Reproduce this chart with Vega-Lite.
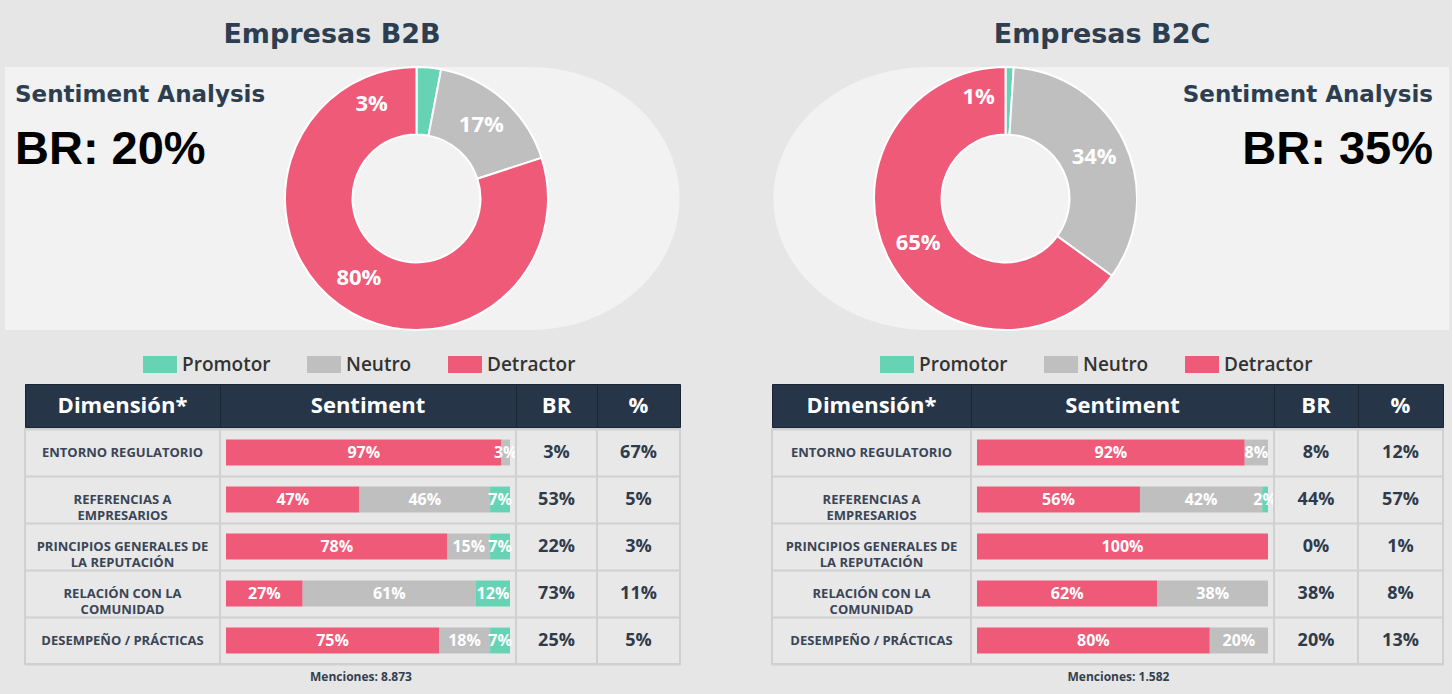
{
  "$schema": "https://vega.github.io/schema/vega-lite/v6.json",
  "background": "#e6e6e6",
  "padding": {"left": 5, "top": 21, "right": 3, "bottom": 17},
  "config": {"view": {"stroke": null}, "font": "Open Sans"},
  "datasets": {
    "donut": [
      {"panel": "B2B", "sentiment": "Promotor", "value": 0.03},
      {"panel": "B2B", "sentiment": "Neutro", "value": 0.17},
      {"panel": "B2B", "sentiment": "Detractor", "value": 0.80},
      {"panel": "B2C", "sentiment": "Promotor", "value": 0.01},
      {"panel": "B2C", "sentiment": "Neutro", "value": 0.34},
      {"panel": "B2C", "sentiment": "Detractor", "value": 0.65}
    ],
    "sent": [
      {"panel": "B2B", "dim": "ENTORNO REGULATORIO", "sentiment": "Detractor", "value": 0.97},
      {"panel": "B2B", "dim": "ENTORNO REGULATORIO", "sentiment": "Neutro", "value": 0.03},
      {"panel": "B2B", "dim": "REFERENCIAS A\nEMPRESARIOS", "sentiment": "Detractor", "value": 0.47},
      {"panel": "B2B", "dim": "REFERENCIAS A\nEMPRESARIOS", "sentiment": "Neutro", "value": 0.46},
      {"panel": "B2B", "dim": "REFERENCIAS A\nEMPRESARIOS", "sentiment": "Promotor", "value": 0.07},
      {"panel": "B2B", "dim": "PRINCIPIOS GENERALES DE\nLA REPUTACIÓN", "sentiment": "Detractor", "value": 0.78},
      {"panel": "B2B", "dim": "PRINCIPIOS GENERALES DE\nLA REPUTACIÓN", "sentiment": "Neutro", "value": 0.15},
      {"panel": "B2B", "dim": "PRINCIPIOS GENERALES DE\nLA REPUTACIÓN", "sentiment": "Promotor", "value": 0.07},
      {"panel": "B2B", "dim": "RELACIÓN CON LA\nCOMUNIDAD", "sentiment": "Detractor", "value": 0.27},
      {"panel": "B2B", "dim": "RELACIÓN CON LA\nCOMUNIDAD", "sentiment": "Neutro", "value": 0.61},
      {"panel": "B2B", "dim": "RELACIÓN CON LA\nCOMUNIDAD", "sentiment": "Promotor", "value": 0.12},
      {"panel": "B2B", "dim": "DESEMPEÑO / PRÁCTICAS", "sentiment": "Detractor", "value": 0.75},
      {"panel": "B2B", "dim": "DESEMPEÑO / PRÁCTICAS", "sentiment": "Neutro", "value": 0.18},
      {"panel": "B2B", "dim": "DESEMPEÑO / PRÁCTICAS", "sentiment": "Promotor", "value": 0.07},
      {"panel": "B2C", "dim": "ENTORNO REGULATORIO", "sentiment": "Detractor", "value": 0.92},
      {"panel": "B2C", "dim": "ENTORNO REGULATORIO", "sentiment": "Neutro", "value": 0.08},
      {"panel": "B2C", "dim": "REFERENCIAS A\nEMPRESARIOS", "sentiment": "Detractor", "value": 0.56},
      {"panel": "B2C", "dim": "REFERENCIAS A\nEMPRESARIOS", "sentiment": "Neutro", "value": 0.42},
      {"panel": "B2C", "dim": "REFERENCIAS A\nEMPRESARIOS", "sentiment": "Promotor", "value": 0.02},
      {"panel": "B2C", "dim": "PRINCIPIOS GENERALES DE\nLA REPUTACIÓN", "sentiment": "Detractor", "value": 1.0},
      {"panel": "B2C", "dim": "RELACIÓN CON LA\nCOMUNIDAD", "sentiment": "Detractor", "value": 0.62},
      {"panel": "B2C", "dim": "RELACIÓN CON LA\nCOMUNIDAD", "sentiment": "Neutro", "value": 0.38},
      {"panel": "B2C", "dim": "DESEMPEÑO / PRÁCTICAS", "sentiment": "Detractor", "value": 0.80},
      {"panel": "B2C", "dim": "DESEMPEÑO / PRÁCTICAS", "sentiment": "Neutro", "value": 0.20}
    ],
    "dims": [
      {"panel": "B2B", "dim": "ENTORNO REGULATORIO", "br": 0.03, "pct": 0.67},
      {"panel": "B2B", "dim": "REFERENCIAS A\nEMPRESARIOS", "br": 0.53, "pct": 0.05},
      {"panel": "B2B", "dim": "PRINCIPIOS GENERALES DE\nLA REPUTACIÓN", "br": 0.22, "pct": 0.03},
      {"panel": "B2B", "dim": "RELACIÓN CON LA\nCOMUNIDAD", "br": 0.73, "pct": 0.11},
      {"panel": "B2B", "dim": "DESEMPEÑO / PRÁCTICAS", "br": 0.25, "pct": 0.05},
      {"panel": "B2C", "dim": "ENTORNO REGULATORIO", "br": 0.08, "pct": 0.12},
      {"panel": "B2C", "dim": "REFERENCIAS A\nEMPRESARIOS", "br": 0.44, "pct": 0.57},
      {"panel": "B2C", "dim": "PRINCIPIOS GENERALES DE\nLA REPUTACIÓN", "br": 0.0, "pct": 0.01},
      {"panel": "B2C", "dim": "RELACIÓN CON LA\nCOMUNIDAD", "br": 0.38, "pct": 0.08},
      {"panel": "B2C", "dim": "DESEMPEÑO / PRÁCTICAS", "br": 0.20, "pct": 0.13}
    ]
  },
  "spacing": 90,
  "resolve": {"legend": {"color": "independent"}},
  "hconcat": [
    {
      "title": {"text": "Empresas B2B", "anchor": "middle", "offset": 14, "dx": -11, "font": "DejaVu Sans", "fontSize": 27, "fontWeight": "bold", "color": "#2c3e50"},
      "spacing": 13,
      "resolve": {"legend": {"color": "independent"}},
      "vconcat": [
        {
          "spacing": 0,
          "bounds": "flush",
          "hconcat": [
            {
              "width": 280, "height": 263,
              "view": {"fill": "#f2f2f2", "stroke": null},
              "title": {"text": "Sentiment Analysis", "subtitle": "BR: 20%", "anchor": "start", "offset": -106, "dx": 10, "font": "DejaVu Sans", "fontSize": 23, "fontWeight": "bold", "color": "#2c3e50", "subtitleFont": "Liberation Sans", "subtitleFontSize": 47, "subtitleFontWeight": "bold", "subtitleColor": "#000000", "subtitlePadding": 20.5},
              "data": {"values": [{}]},
              "mark": {"type": "text"},
              "encoding": {"text": {"value": ""}}
            },
            {
              "width": 263, "height": 263,
              "layer": [
                {
                  "data": {"values": [{}]},
                  "mark": {"type": "point", "shape": "M-1,-1L0.867,-1A1.133,1,0,0,1,2,0A1.133,1,0,0,1,0.867,1L-1,1Z", "size": 69169, "filled": true, "color": "#f2f2f2", "opacity": 1, "strokeWidth": 0},
                  "encoding": {}
                },
                {
                  "data": {"name": "donut"},
                  "transform": [{"filter": "datum.panel == 'B2B'"}],
                  "mark": {"type": "arc", "radius": 131.5, "innerRadius": 64, "stroke": "#ffffff", "strokeWidth": 2},
                  "encoding": {
                    "theta": {"field": "value", "type": "quantitative", "stack": true, "scale": {"domain": [0, 1]}},
                    "color": {"field": "sentiment", "type": "nominal", "scale": {"domain": ["Promotor", "Neutro", "Detractor"], "range": ["#66d4b4", "#bfbfbf", "#ef5a78"]}, "legend": null},
                    "order": {"field": "sentiment", "sort": "descending"}
                  }
                },
                {
                  "data": {"name": "donut"},
                  "transform": [{"filter": "datum.panel == 'B2B'"}],
                  "mark": {"type": "text", "radius": 98, "font": "Open Sans", "fontSize": 22, "fontWeight": "bold", "color": "#ffffff"},
                  "encoding": {
                    "theta": {"field": "value", "type": "quantitative", "stack": true, "scale": {"domain": [0, 1]}},
                    "detail": {"field": "sentiment"},
                    "order": {"field": "sentiment", "sort": "descending"},
                    "text": {"condition": {"test": "datum.sentiment == 'Promotor'", "value": ""}, "field": "value", "type": "quantitative", "format": ".0%"}
                  }
                },
                {
                  "data": {"name": "donut"},
                  "transform": [{"filter": "datum.panel == 'B2B'"}],
                  "mark": {"type": "text", "radius": 98, "dx": -54, "dy": 3, "font": "Open Sans", "fontSize": 22, "fontWeight": "bold", "color": "#ffffff"},
                  "encoding": {
                    "theta": {"field": "value", "type": "quantitative", "stack": true, "scale": {"domain": [0, 1]}},
                    "detail": {"field": "sentiment"},
                    "order": {"field": "sentiment", "sort": "descending"},
                    "text": {"condition": {"test": "datum.sentiment == 'Promotor'", "field": "value", "type": "quantitative", "format": ".0%"}, "value": ""}
                  }
                }
              ]
            }
          ]
        },
        {
          "spacing": 0,
          "vconcat": [
            {
              "spacing": 0,
              "bounds": "flush",
              "hconcat": [
                {"width": 20, "height": 43, "data": {"values": [{}]}, "mark": {"type": "text"}, "encoding": {"text": {"value": ""}}},
                {"width": 195, "height": 43, "view": {"fill": "#273549", "stroke": "#1b2432", "strokeWidth": 1}, "data": {"values": [{"h": "Dimensión*"}]}, "mark": {"type": "text", "font": "Open Sans", "fontSize": 22, "fontWeight": "bold", "color": "#ffffff"}, "encoding": {"text": {"field": "h"}}},
                {"width": 296, "height": 43, "view": {"fill": "#273549", "stroke": "#1b2432", "strokeWidth": 1}, "data": {"values": [{"h": "Sentiment"}]}, "mark": {"type": "text", "font": "Open Sans", "fontSize": 22, "fontWeight": "bold", "color": "#ffffff"}, "encoding": {"text": {"field": "h"}}},
                {"width": 81, "height": 43, "view": {"fill": "#273549", "stroke": "#1b2432", "strokeWidth": 1}, "data": {"values": [{"h": "BR"}]}, "mark": {"type": "text", "font": "Open Sans", "fontSize": 22, "fontWeight": "bold", "color": "#ffffff"}, "encoding": {"text": {"field": "h"}}},
                {"width": 83, "height": 43, "view": {"fill": "#273549", "stroke": "#1b2432", "strokeWidth": 1}, "data": {"values": [{"h": "%"}]}, "mark": {"type": "text", "font": "Open Sans", "fontSize": 22, "fontWeight": "bold", "color": "#ffffff"}, "encoding": {"text": {"field": "h"}}}
              ]
            },
            {
              "spacing": 0,
              "bounds": "flush",
              "hconcat": [
                {"width": 20, "height": 235, "data": {"values": [{}]}, "mark": {"type": "text"}, "encoding": {"text": {"value": ""}}},
                {
                  "width": 195, "height": 235,
                  "view": {"fill": "#e8e8e8", "stroke": "#d0d0d0", "strokeWidth": 2},
                  "data": {"name": "dims"},
                  "transform": [{"filter": "datum.panel == 'B2B'"}],
                  "mark": {"type": "text", "font": "Open Sans", "fontSize": 13, "fontWeight": "bold", "color": "#3a4556", "lineBreak": "\n", "lineHeight": 16},
                  "encoding": {
                    "y": {"field": "dim", "type": "nominal", "scale": {"type": "band", "domain": ["ENTORNO REGULATORIO", "REFERENCIAS A\nEMPRESARIOS", "PRINCIPIOS GENERALES DE\nLA REPUTACIÓN", "RELACIÓN CON LA\nCOMUNIDAD", "DESEMPEÑO / PRÁCTICAS"], "paddingInner": 0, "paddingOuter": 0}, "axis": {"grid": true, "tickBand": "extent", "labels": false, "ticks": false, "domain": false, "title": null, "gridColor": "#d0d0d0", "gridWidth": 2}},
                    "text": {"field": "dim"}
                  }
                },
                {
                  "width": 296, "height": 235,
                  "view": {"fill": "#e8e8e8", "stroke": "#d0d0d0", "strokeWidth": 2},
                  "title": {"text": "Menciones: 8.873", "orient": "bottom", "anchor": "middle", "offset": 8, "dx": -7, "font": "Open Sans", "fontSize": 12, "fontWeight": "bold", "color": "#333f50"},
                  "data": {"name": "sent"},
                  "transform": [{"filter": "datum.panel == 'B2B'"}],
                  "encoding": {
                    "y": {"field": "dim", "type": "nominal", "scale": {"type": "band", "domain": ["ENTORNO REGULATORIO", "REFERENCIAS A\nEMPRESARIOS", "PRINCIPIOS GENERALES DE\nLA REPUTACIÓN", "RELACIÓN CON LA\nCOMUNIDAD", "DESEMPEÑO / PRÁCTICAS"], "paddingInner": 0, "paddingOuter": 0}, "axis": {"grid": true, "tickBand": "extent", "labels": false, "ticks": false, "domain": false, "title": null, "gridColor": "#d0d0d0", "gridWidth": 2}},
                    "x": {"field": "value", "type": "quantitative", "stack": "zero", "scale": {"domain": [0, 1], "nice": false, "padding": 6}, "axis": null},
                    "order": {"field": "sentiment", "sort": "ascending"}
                  },
                  "layer": [
                    {
                      "mark": {"type": "bar", "height": {"band": 0.55}},
                      "encoding": {
                        "color": {"field": "sentiment", "type": "nominal", "scale": {"domain": ["Promotor", "Neutro", "Detractor"], "range": ["#66d4b4", "#bfbfbf", "#ef5a78"]},
                          "legend": {"orient": "none", "legendX": 138, "legendY": -36.5, "direction": "horizontal", "title": null, "symbolType": "M-1,-0.5H1V0.5H-1Z", "symbolSize": 1156, "symbolStrokeWidth": 0, "symbolOpacity": 1, "labelFont": "Open Sans", "labelFontSize": 19, "labelFontWeight": 600, "labelColor": "#333333", "labelOffset": 5, "columnPadding": 36, "padding": 0}}
                      }
                    },
                    {
                      "mark": {"type": "text", "font": "Open Sans", "fontSize": 16, "fontWeight": "bold", "color": "#ffffff"},
                      "encoding": {
                        "x": {"field": "value", "type": "quantitative", "stack": "zero", "bandPosition": 0.5, "scale": {"domain": [0, 1], "nice": false, "padding": 6}, "axis": null},
                        "detail": {"field": "sentiment"},
                        "text": {"field": "value", "type": "quantitative", "format": ".0%"}
                      }
                    }
                  ]
                },
                {
                  "width": 81, "height": 235,
                  "view": {"fill": "#e8e8e8", "stroke": "#d0d0d0", "strokeWidth": 2},
                  "data": {"name": "dims"},
                  "transform": [{"filter": "datum.panel == 'B2B'"}],
                  "mark": {"type": "text", "font": "Open Sans", "fontSize": 18, "fontWeight": "bold", "color": "#2f3b4c"},
                  "encoding": {
                    "y": {"field": "dim", "type": "nominal", "scale": {"type": "band", "domain": ["ENTORNO REGULATORIO", "REFERENCIAS A\nEMPRESARIOS", "PRINCIPIOS GENERALES DE\nLA REPUTACIÓN", "RELACIÓN CON LA\nCOMUNIDAD", "DESEMPEÑO / PRÁCTICAS"], "paddingInner": 0, "paddingOuter": 0}, "axis": {"grid": true, "tickBand": "extent", "labels": false, "ticks": false, "domain": false, "title": null, "gridColor": "#d0d0d0", "gridWidth": 2}},
                    "text": {"field": "br", "type": "quantitative", "format": ".0%"}
                  }
                },
                {
                  "width": 83, "height": 235,
                  "view": {"fill": "#e8e8e8", "stroke": "#d0d0d0", "strokeWidth": 2},
                  "data": {"name": "dims"},
                  "transform": [{"filter": "datum.panel == 'B2B'"}],
                  "mark": {"type": "text", "font": "Open Sans", "fontSize": 18, "fontWeight": "bold", "color": "#2f3b4c"},
                  "encoding": {
                    "y": {"field": "dim", "type": "nominal", "scale": {"type": "band", "domain": ["ENTORNO REGULATORIO", "REFERENCIAS A\nEMPRESARIOS", "PRINCIPIOS GENERALES DE\nLA REPUTACIÓN", "RELACIÓN CON LA\nCOMUNIDAD", "DESEMPEÑO / PRÁCTICAS"], "paddingInner": 0, "paddingOuter": 0}, "axis": {"grid": true, "tickBand": "extent", "labels": false, "ticks": false, "domain": false, "title": null, "gridColor": "#d0d0d0", "gridWidth": 2}},
                    "text": {"field": "pct", "type": "quantitative", "format": ".0%"}
                  }
                }
              ]
            }
          ]
        }
      ]
    },
    {
      "title": {"text": "Empresas B2C", "anchor": "middle", "offset": 14, "dx": -8, "font": "DejaVu Sans", "fontSize": 27, "fontWeight": "bold", "color": "#2c3e50"},
      "spacing": 13,
      "resolve": {"legend": {"color": "independent"}},
      "vconcat": [
        {
          "spacing": 0,
          "bounds": "flush",
          "hconcat": [
            {"width": 102, "height": 263, "data": {"values": [{}]}, "mark": {"type": "text"}, "encoding": {"text": {"value": ""}}},
            {
              "width": 263, "height": 263,
              "layer": [
                {
                  "data": {"values": [{}]},
                  "mark": {"type": "point", "shape": "M1,-1L-0.586,-1A1.179,1,0,0,0,-1.765,0A1.179,1,0,0,0,-0.586,1L1,1Z", "size": 69169, "filled": true, "color": "#f2f2f2", "opacity": 1, "strokeWidth": 0},
                  "encoding": {}
                },
                {
                  "data": {"name": "donut"},
                  "transform": [{"filter": "datum.panel == 'B2C'"}],
                  "mark": {"type": "arc", "radius": 131.5, "innerRadius": 64, "stroke": "#ffffff", "strokeWidth": 2},
                  "encoding": {
                    "theta": {"field": "value", "type": "quantitative", "stack": true, "scale": {"domain": [0, 1]}},
                    "color": {"field": "sentiment", "type": "nominal", "scale": {"domain": ["Promotor", "Neutro", "Detractor"], "range": ["#66d4b4", "#bfbfbf", "#ef5a78"]}, "legend": null},
                    "order": {"field": "sentiment", "sort": "descending"}
                  }
                },
                {
                  "data": {"name": "donut"},
                  "transform": [{"filter": "datum.panel == 'B2C'"}],
                  "mark": {"type": "text", "radius": 98, "font": "Open Sans", "fontSize": 22, "fontWeight": "bold", "color": "#ffffff"},
                  "encoding": {
                    "theta": {"field": "value", "type": "quantitative", "stack": true, "scale": {"domain": [0, 1]}},
                    "detail": {"field": "sentiment"},
                    "order": {"field": "sentiment", "sort": "descending"},
                    "text": {"condition": {"test": "datum.sentiment == 'Promotor'", "value": ""}, "field": "value", "type": "quantitative", "format": ".0%"}
                  }
                },
                {
                  "data": {"name": "donut"},
                  "transform": [{"filter": "datum.panel == 'B2C'"}],
                  "mark": {"type": "text", "radius": 98, "dx": -30, "dy": -4, "font": "Open Sans", "fontSize": 22, "fontWeight": "bold", "color": "#ffffff"},
                  "encoding": {
                    "theta": {"field": "value", "type": "quantitative", "stack": true, "scale": {"domain": [0, 1]}},
                    "detail": {"field": "sentiment"},
                    "order": {"field": "sentiment", "sort": "descending"},
                    "text": {"condition": {"test": "datum.sentiment == 'Promotor'", "field": "value", "type": "quantitative", "format": ".0%"}, "value": ""}
                  }
                }
              ]
            },
            {
              "width": 312, "height": 263,
              "view": {"fill": "#f2f2f2", "stroke": null},
              "title": {"text": "Sentiment Analysis", "subtitle": "BR: 35%", "anchor": "end", "offset": -106, "dx": -16, "font": "DejaVu Sans", "fontSize": 23, "fontWeight": "bold", "color": "#2c3e50", "subtitleFont": "Liberation Sans", "subtitleFontSize": 47, "subtitleFontWeight": "bold", "subtitleColor": "#000000", "subtitlePadding": 20.5},
              "data": {"values": [{}]},
              "mark": {"type": "text"},
              "encoding": {"text": {"value": ""}}
            }
          ]
        },
        {
          "spacing": 0,
          "vconcat": [
            {
              "spacing": 0,
              "bounds": "flush",
              "hconcat": [
                {"width": 199, "height": 43, "view": {"fill": "#273549", "stroke": "#1b2432", "strokeWidth": 1}, "data": {"values": [{"h": "Dimensión*"}]}, "mark": {"type": "text", "font": "Open Sans", "fontSize": 22, "fontWeight": "bold", "color": "#ffffff"}, "encoding": {"text": {"field": "h"}}},
                {"width": 303, "height": 43, "view": {"fill": "#273549", "stroke": "#1b2432", "strokeWidth": 1}, "data": {"values": [{"h": "Sentiment"}]}, "mark": {"type": "text", "font": "Open Sans", "fontSize": 22, "fontWeight": "bold", "color": "#ffffff"}, "encoding": {"text": {"field": "h"}}},
                {"width": 84, "height": 43, "view": {"fill": "#273549", "stroke": "#1b2432", "strokeWidth": 1}, "data": {"values": [{"h": "BR"}]}, "mark": {"type": "text", "font": "Open Sans", "fontSize": 22, "fontWeight": "bold", "color": "#ffffff"}, "encoding": {"text": {"field": "h"}}},
                {"width": 85, "height": 43, "view": {"fill": "#273549", "stroke": "#1b2432", "strokeWidth": 1}, "data": {"values": [{"h": "%"}]}, "mark": {"type": "text", "font": "Open Sans", "fontSize": 22, "fontWeight": "bold", "color": "#ffffff"}, "encoding": {"text": {"field": "h"}}}
              ]
            },
            {
              "spacing": 0,
              "bounds": "flush",
              "hconcat": [
                {
                  "width": 199, "height": 235,
                  "view": {"fill": "#e8e8e8", "stroke": "#d0d0d0", "strokeWidth": 2},
                  "data": {"name": "dims"},
                  "transform": [{"filter": "datum.panel == 'B2C'"}],
                  "mark": {"type": "text", "font": "Open Sans", "fontSize": 13, "fontWeight": "bold", "color": "#3a4556", "lineBreak": "\n", "lineHeight": 16},
                  "encoding": {
                    "y": {"field": "dim", "type": "nominal", "scale": {"type": "band", "domain": ["ENTORNO REGULATORIO", "REFERENCIAS A\nEMPRESARIOS", "PRINCIPIOS GENERALES DE\nLA REPUTACIÓN", "RELACIÓN CON LA\nCOMUNIDAD", "DESEMPEÑO / PRÁCTICAS"], "paddingInner": 0, "paddingOuter": 0}, "axis": {"grid": true, "tickBand": "extent", "labels": false, "ticks": false, "domain": false, "title": null, "gridColor": "#d0d0d0", "gridWidth": 2}},
                    "text": {"field": "dim"}
                  }
                },
                {
                  "width": 303, "height": 235,
                  "view": {"fill": "#e8e8e8", "stroke": "#d0d0d0", "strokeWidth": 2},
                  "title": {"text": "Menciones: 1.582", "orient": "bottom", "anchor": "middle", "offset": 8, "dx": -4, "font": "Open Sans", "fontSize": 12, "fontWeight": "bold", "color": "#333f50"},
                  "data": {"name": "sent"},
                  "transform": [{"filter": "datum.panel == 'B2C'"}],
                  "encoding": {
                    "y": {"field": "dim", "type": "nominal", "scale": {"type": "band", "domain": ["ENTORNO REGULATORIO", "REFERENCIAS A\nEMPRESARIOS", "PRINCIPIOS GENERALES DE\nLA REPUTACIÓN", "RELACIÓN CON LA\nCOMUNIDAD", "DESEMPEÑO / PRÁCTICAS"], "paddingInner": 0, "paddingOuter": 0}, "axis": {"grid": true, "tickBand": "extent", "labels": false, "ticks": false, "domain": false, "title": null, "gridColor": "#d0d0d0", "gridWidth": 2}},
                    "x": {"field": "value", "type": "quantitative", "stack": "zero", "scale": {"domain": [0, 1], "nice": false, "padding": 6}, "axis": null},
                    "order": {"field": "sentiment", "sort": "ascending"}
                  },
                  "layer": [
                    {
                      "mark": {"type": "bar", "height": {"band": 0.55}},
                      "encoding": {
                        "color": {"field": "sentiment", "type": "nominal", "scale": {"domain": ["Promotor", "Neutro", "Detractor"], "range": ["#66d4b4", "#bfbfbf", "#ef5a78"]},
                          "legend": {"orient": "none", "legendX": 108, "legendY": -36.5, "direction": "horizontal", "title": null, "symbolType": "M-1,-0.5H1V0.5H-1Z", "symbolSize": 1156, "symbolStrokeWidth": 0, "symbolOpacity": 1, "labelFont": "Open Sans", "labelFontSize": 19, "labelFontWeight": 600, "labelColor": "#333333", "labelOffset": 5, "columnPadding": 36, "padding": 0}}
                      }
                    },
                    {
                      "mark": {"type": "text", "font": "Open Sans", "fontSize": 16, "fontWeight": "bold", "color": "#ffffff"},
                      "encoding": {
                        "x": {"field": "value", "type": "quantitative", "stack": "zero", "bandPosition": 0.5, "scale": {"domain": [0, 1], "nice": false, "padding": 6}, "axis": null},
                        "detail": {"field": "sentiment"},
                        "text": {"field": "value", "type": "quantitative", "format": ".0%"}
                      }
                    }
                  ]
                },
                {
                  "width": 84, "height": 235,
                  "view": {"fill": "#e8e8e8", "stroke": "#d0d0d0", "strokeWidth": 2},
                  "data": {"name": "dims"},
                  "transform": [{"filter": "datum.panel == 'B2C'"}],
                  "mark": {"type": "text", "font": "Open Sans", "fontSize": 18, "fontWeight": "bold", "color": "#2f3b4c"},
                  "encoding": {
                    "y": {"field": "dim", "type": "nominal", "scale": {"type": "band", "domain": ["ENTORNO REGULATORIO", "REFERENCIAS A\nEMPRESARIOS", "PRINCIPIOS GENERALES DE\nLA REPUTACIÓN", "RELACIÓN CON LA\nCOMUNIDAD", "DESEMPEÑO / PRÁCTICAS"], "paddingInner": 0, "paddingOuter": 0}, "axis": {"grid": true, "tickBand": "extent", "labels": false, "ticks": false, "domain": false, "title": null, "gridColor": "#d0d0d0", "gridWidth": 2}},
                    "text": {"field": "br", "type": "quantitative", "format": ".0%"}
                  }
                },
                {
                  "width": 85, "height": 235,
                  "view": {"fill": "#e8e8e8", "stroke": "#d0d0d0", "strokeWidth": 2},
                  "data": {"name": "dims"},
                  "transform": [{"filter": "datum.panel == 'B2C'"}],
                  "mark": {"type": "text", "font": "Open Sans", "fontSize": 18, "fontWeight": "bold", "color": "#2f3b4c"},
                  "encoding": {
                    "y": {"field": "dim", "type": "nominal", "scale": {"type": "band", "domain": ["ENTORNO REGULATORIO", "REFERENCIAS A\nEMPRESARIOS", "PRINCIPIOS GENERALES DE\nLA REPUTACIÓN", "RELACIÓN CON LA\nCOMUNIDAD", "DESEMPEÑO / PRÁCTICAS"], "paddingInner": 0, "paddingOuter": 0}, "axis": {"grid": true, "tickBand": "extent", "labels": false, "ticks": false, "domain": false, "title": null, "gridColor": "#d0d0d0", "gridWidth": 2}},
                    "text": {"field": "pct", "type": "quantitative", "format": ".0%"}
                  }
                }
              ]
            }
          ]
        }
      ]
    }
  ]
}
